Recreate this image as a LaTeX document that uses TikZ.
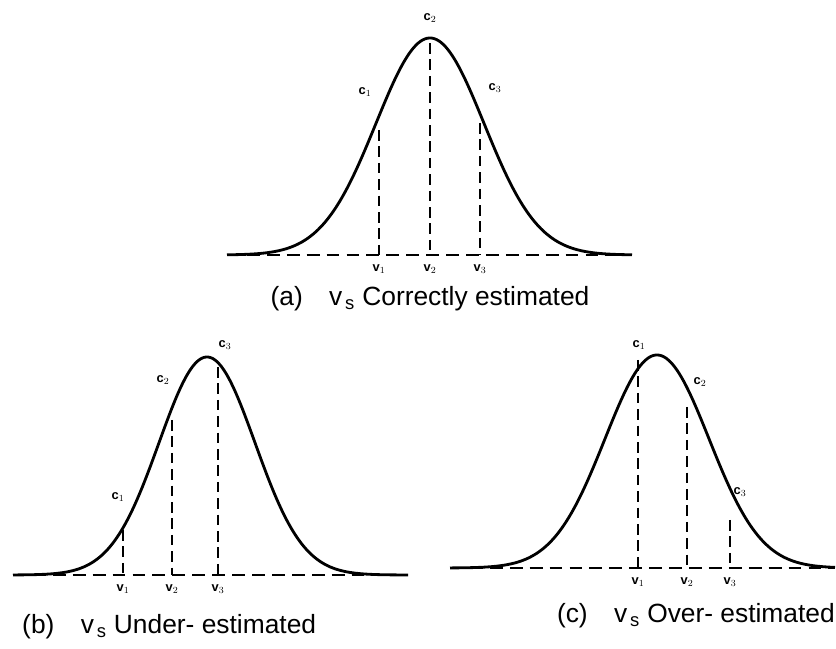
\documentclass[tikz,border=0pt]{standalone}
\usepackage{fontspec}
\setmainfont{Liberation Sans}
\usetikzlibrary{positioning}
\tikzset{
  font=\fontsize{22.5}{26}\selectfont,
  %
  curve/.style={draw=black, line width=2.4pt, line join=round, smooth},
  axis/.style={draw=black, line width=2.4pt, dash pattern=on 11pt off 6pt},
  drop/.style={draw=black, line width=1.6pt, dash pattern=on 9pt off 5pt},
  %
  clbl/.style={font=\fontsize{11}{13}\selectfont\bfseries, inner sep=1pt},
  vlbl/.style={font=\fontsize{11}{13}\selectfont\bfseries, inner sep=1pt, below=7pt},
  caption/.style={inner sep=0pt},
}

\begin{document}
\begin{tikzpicture}[x=0.03cm, y=0.03cm]
\useasboundingbox (0,0) rectangle (836,649);

% =========================================================================
% (a): correctly estimated
% =========================================================================
\begin{scope}[shift={(430,394)}]
  \draw[curve] plot[domain=-203:202, samples=90] (\x, {217*exp(-((\x/54)^2)/2)});
  \coordinate (aL) at (-203,0);
  \coordinate (aR) at (202,0);
  \draw[axis] (aL) -- (aR);

  \coordinate (a1t) at (-51,125);  \coordinate (a1) at (-51,0);
  \coordinate (a2t) at (0,212);    \coordinate (a2) at (0,0);
  \coordinate (a3t) at (50,132);   \coordinate (a3) at (50,0);
  \draw[drop] (a1t) -- (a1);
  \draw[drop] (a2t) -- (a2);
  \draw[drop] (a3t) -- (a3);

  \node[clbl] (ac1) at (-65,163) {c$_1$};
  \node[clbl] (ac2) at (0,237)   {c$_2$};
  \node[clbl] (ac3) at (65,167)  {c$_3$};
  \node[vlbl] (av1) at (a1) {v$_1$};
  \node[vlbl] (av2) at (a2) {v$_2$};
  \node[vlbl] (av3) at (a3) {v$_3$};

  \node[caption] (acap) at (0,-44) {(a)\quad v$_{\,\mathrm{s}}$ Correctly estimated};
\end{scope}

% =========================================================================
% (b): under-estimated
% =========================================================================
\begin{scope}[shift={(207,74)}]
  \draw[curve] plot[domain=-194:201, samples=90] (\x, {218*exp(-((\x/48)^2)/2)});
  \coordinate (bL) at (-194,0);
  \coordinate (bR) at (201,0);
  \draw[axis] (bL) -- (bR);

  \coordinate (b1t) at (-84,45);   \coordinate (b1) at (-84,0);
  \coordinate (b2t) at (-35,155);  \coordinate (b2) at (-35,0);
  \coordinate (b3t) at (11,208);   \coordinate (b3) at (11,0);
  \draw[drop] (b1t) -- (b1);
  \draw[drop] (b2t) -- (b2);
  \draw[drop] (b3t) -- (b3);

  \node[clbl] (bc1) at (-89,78)  {c$_1$};
  \node[clbl] (bc2) at (-44,195) {c$_2$};
  \node[clbl] (bc3) at (18,230)  {c$_3$};
  \node[vlbl] (bv1) at (b1) {v$_1$};
  \node[vlbl] (bv2) at (b2) {v$_2$};
  \node[vlbl] (bv3) at (b3) {v$_3$};

  \node[caption, anchor=west] (bcap) at (-185,-52) {(b)\quad v$_{\,\mathrm{s}}$ Under- estimated};
\end{scope}

% =========================================================================
% (c): over-estimated
% =========================================================================
\begin{scope}[shift={(657,81)}]
  \draw[curve] plot[domain=-207:178, samples=90] (\x, {213*exp(-((\x/52)^2)/2)});
  \coordinate (cL) at (-207,0);
  \coordinate (cR) at (178,0);
  \draw[axis] (cL) -- (cR);

  \coordinate (c1t) at (-19,208);  \coordinate (c1) at (-19,0);
  \coordinate (c2t) at (30,161);   \coordinate (c2) at (30,0);
  \coordinate (c3t) at (73,48);    \coordinate (c3) at (73,0);
  \draw[drop] (c1t) -- (c1);
  \draw[drop] (c2t) -- (c2);
  \draw[drop] (c3t) -- (c3);

  \node[clbl] (cc1) at (-18,223) {c$_1$};
  \node[clbl] (cc2) at (43,186)  {c$_2$};
  \node[clbl] (cc3) at (83,76)   {c$_3$};
  \node[vlbl] (cv1) at (c1) {v$_1$};
  \node[vlbl] (cv2) at (c2) {v$_2$};
  \node[vlbl] (cv3) at (c3) {v$_3$};

  \node[caption, anchor=east] (ccap) at (178,-48) {(c)\quad v$_{\,\mathrm{s}}$ Over- estimated};
\end{scope}

\end{tikzpicture}
\end{document}
